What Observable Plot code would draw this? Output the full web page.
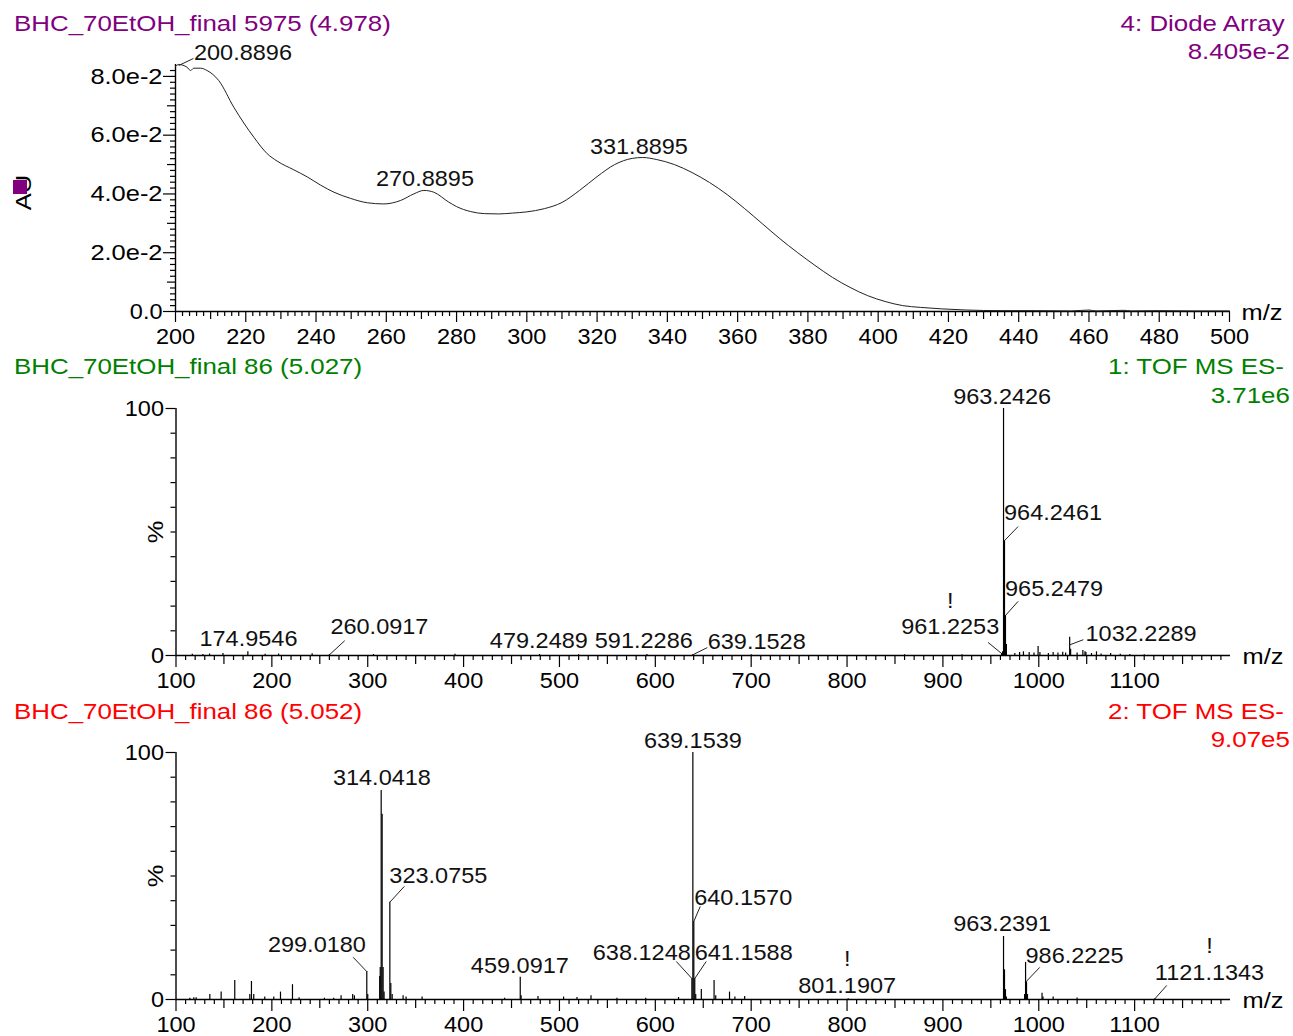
<!DOCTYPE html>
<html><head><meta charset="utf-8">
<script src="https://cdn.jsdelivr.net/npm/d3@7"></script>
<script src="https://cdn.jsdelivr.net/npm/@observablehq/plot@0.6"></script>
<style>
body{margin:0;background:#fff;}
#root{position:relative;width:1293px;height:1036px;overflow:hidden;font-family:'Liberation Sans',Arial,sans-serif;background:#fff;}
.panel{position:absolute;left:0;}
.t{position:absolute;font-size:22.5px;line-height:26px;white-space:nowrap;z-index:2;}
.tl{transform:scaleX(1.15);transform-origin:left center;}
.tr{transform:scaleX(1.15);transform-origin:right center;}
</style></head>
<body><div id="root"></div>
<script>
// ---------- Panel 1: UV diode array ----------
const uvTitle = "BHC_70EtOH_final 5975 (4.978)";
const uvChannel = "4: Diode Array";
const uvMax = "8.405e-2";
const uvNm = [200,200.9,203.3,204.3,205.2,207.1,209,212.3,216.6,222.3,226.1,228.9,233.7,237.5,241.3,245.1,249.8,254.6,259.3,264.1,267.8,270.7,273.5,277.8,280,284,288,292,296,300,305,310,315,320,325,330,333,337,342,347,352,357,362,367,372,377,382,387,392,397,402,407,412,418,425,435,445,455,460,462,470,472,480,490,500];
const uvAU = [0.0834,0.08405,0.0831,0.0820,0.0828,0.0828,0.0820,0.0786,0.0695,0.0593,0.0537,0.0512,0.0482,0.0458,0.0430,0.0406,0.0385,0.0370,0.0366,0.0378,0.0400,0.0412,0.0406,0.0372,0.0357,0.0340,0.0333,0.0332,0.0335,0.0339,0.0350,0.0371,0.0412,0.0459,0.0500,0.0521,0.0524,0.0517,0.0500,0.0473,0.0439,0.0398,0.0350,0.0299,0.0248,0.0201,0.0157,0.0116,0.0082,0.0054,0.0034,0.0020,0.0014,0.0009,0.0005,0.0003,0.0003,0.0002,0.0005,0.0002,0.0004,0.0002,0.0003,0.0002,0.0002];
const uvYTicks = [0,0.02,0.04,0.06,0.08];
const uvYTickLabels = ["0.0","2.0e-2","4.0e-2","6.0e-2","8.0e-2"];
const uvXTicks = [200,220,240,260,280,300,320,340,360,380,400,420,440,460,480,500];
const uvLabelText = ["200.8896","270.8895","331.8895"];
const uvLabelNm = [219.2,271.0,331.9];
const uvLabelAU = [0.0881,0.04526,0.05615];
const uvLeader = [{x1:200.9,y1:0.0837,x2:205.1,y2:0.0861}];

// ---------- Panel 2: TOF MS ES- (1) ----------
const ms1Title = "BHC_70EtOH_final 86 (5.027)";
const ms1Channel = "1: TOF MS ES-";
const ms1Max = "3.71e6";
const ms1Mz = [117,128,135,149,174.9546,193,207,242,260.0917,306,391,479.2489,520,591.2286,639.1528,700,860,920,961.2253,962.23,963.2426,964.2461,965.2479,966.25,975,980,984,990,995,999.3,1001.2,1010,1015,1020,1025,1028,1032.2289,1033.23,1040,1046,1048.2,1049.2,1055,1060.2,1065,1075,1085,1095,1110];
const ms1Pct = [0.5,0.4,0.6,0.8,1.5,0.5,0.6,0.7,0.4,0.4,0.5,0.4,0.3,0.4,0.4,0.3,0.3,0.3,0.8,1.5,100,46.5,16.2,4.5,0.8,1.2,1.5,1.2,1,3.6,1.2,0.8,1.2,1,1.3,1,7.4,2.5,1,2,1.5,1.2,0.8,1.5,0.6,0.8,0.5,0.4,0.3];
const ms1LabelText = ["963.2426","964.2461","965.2479","961.2253","!","1032.2289","174.9546","260.0917","479.2489","591.2286","639.1528"];
const ms1LabelMz = [961.8,1014.9,1015.9,907.6,907.6,1106.7,175.6,312.2,478.5,588,705.8];
const ms1LabelPct = [104.9,57.9,27.1,11.7,22.3,8.9,6.9,11.7,6.1,6.1,5.7];
const ms1Leaders = [
  {x1:964.2461,y1:46.5,x2:978.4,y2:52.2},
  {x1:965.2479,y1:16.2,x2:978.4,y2:21.9},
  {x1:961.2253,y1:0.8,x2:947.1,y2:5.3},
  {x1:1032.2289,y1:4.3,x2:1046.5,y2:6.4},
  {x1:260.0917,y1:0.3,x2:276,y2:6},
  {x1:639.1528,y1:0.3,x2:654.2,y2:3.2}
];

// ---------- Panel 3: TOF MS ES- (2) ----------
const ms2Title = "BHC_70EtOH_final 86 (5.052)";
const ms2Channel = "2: TOF MS ES-";
const ms2Max = "9.07e5";
const ms2Mz = [114.4,118.6,121,135.3,147.1,161.3,177,178.7,181.1,192.6,202,209,221.5,228.4,254.8,264.5,272.2,284.3,286.1,299.018,300.02,312.5,313.04,314.0418,315.04,316.05,317.05,323.0755,324.08,325.5,336.9,340,356.7,442.8,459.0917,460,477.6,504.3,518.3,532.9,560,590,624.2,638.1248,639.1539,640.157,641.1588,642.16,648,661.3,663,677.4,683,693.2,801.1907,963.2391,964.24,965.24,966.24,985.2,986.2225,987.22,988.22,1003.4,1004.4,1015,1040,1121.1343];
const ms2Pct = [0.5,0.7,0.7,2,3,7.7,2,7.3,2,1,1,3,6,0.7,0.5,0.5,1.5,2,1.5,11.3,2,9.3,13,84.6,75,13,3,39.4,6.5,2,1.5,1,1,0.5,9,1.5,1.2,1,0.8,1.5,0.5,0.5,0.8,8.5,100,31.6,8.5,2,4,7.7,1.5,3,1,1.2,0.3,25.5,12,4,1,2,15,7,2,2.5,1,1,0.6,0.3];
const ms2LabelText = ["639.1539","314.0418","323.0755","299.0180","459.0917","638.1248","641.1588","640.1570","801.1907","!","963.2391","986.2225","1121.1343","!"];
const ms2LabelMz = [639.2,314.8,373.7,247,458.7,585.9,692.2,691.7,800.1,800.1,961.8,1037.3,1178.1,1178.1];
const ms2LabelPct = [104.9,89.9,50.2,22.3,13.8,19.0,19.0,41.3,5.7,16.6,30.8,17.8,10.9,21.9];
const ms2Leaders = [
  {x1:323.0755,y1:39.4,x2:338.2,y2:45.8},
  {x1:299.018,y1:11.3,x2:284.8,y2:17.1},
  {x1:640.157,y1:31.6,x2:646.9,y2:37.7},
  {x1:638.1248,y1:8.5,x2:621.9,y2:15.4},
  {x1:641.1588,y1:8.5,x2:653.1,y2:15.4},
  {x1:986.2225,y1:7,x2:1001,y2:13},
  {x1:1121.1343,y1:0.3,x2:1133.5,y2:5.7}
];
const msXTicks = [100,200,300,400,500,600,700,800,900,1000,1100];
const msYTicks = [0,100];

// ---------- helpers ----------
const FONT = "'Liberation Sans', Arial, sans-serif";
const root = document.getElementById("root");

// widen glyphs horizontally about each text's own anchor point
function stretch(svg) {
  svg.querySelectorAll("text").forEach(t => {
    const k = /^[\d.!]+$/.test(t.textContent.trim()) ? 1.045 : 1.13;
    let tr = t.getAttribute("transform") || "";
    const x = t.getAttribute("x");
    if (x != null && !isNaN(+x) && +x !== 0) {
      tr += ` translate(${+x},0)`;
      t.removeAttribute("x");
    }
    t.setAttribute("transform", tr + ` scale(${k},1)`);
  });
}

function xTickRules(vals, len) {
  return Plot.ruleX(vals, {x: d => d, y1: 0, y2: 0, insetBottom: -len, stroke: "black", strokeWidth: 1.2});
}
function yTickRules(vals, x0, len) {
  return Plot.ruleY(vals, {y: d => d, x1: x0, x2: x0, insetLeft: -len, stroke: "black", strokeWidth: 1.2});
}

function addText(cls, text, color, top, side, off) {
  const d = document.createElement("div");
  d.className = "t " + cls;
  d.textContent = text;
  d.style.color = color;
  d.style.top = top + "px";
  d.style[side] = off + "px";
  root.appendChild(d);
}

function place(svg, top) {
  stretch(svg);
  const w = document.createElement("div");
  w.className = "panel";
  w.style.top = top + "px";
  w.appendChild(svg);
  root.appendChild(w);
}

const baseStyle = {fontFamily: FONT, fontSize: "22.5px", color: "black", background: "transparent", overflow: "visible"};

// ---------- Panel 1 ----------
{
  const uv = uvNm.map((x, i) => ({x, y: uvAU[i]}));
  const lab = uvLabelText.map((t, i) => ({t, x: uvLabelNm[i], y: uvLabelAU[i]}));
  const minorX = d3.range(202, 500, 2).filter(v => v % 10 !== 0);
  const medX = d3.range(210, 500, 20);
  const minorY = d3.range(0.002, 0.084, 0.002).filter(v => Math.abs(v / 0.01 - Math.round(v / 0.01)) > 1e-6);
  const medY = [0.01, 0.03, 0.05, 0.07];
  const svg = Plot.plot({
    width: 1293, height: 350,
    marginLeft: 175, marginRight: 64, marginTop: 64, marginBottom: 39,
    x: {domain: [200, 500], axis: null},
    y: {domain: [0, 0.08405], axis: null},
    style: baseStyle,
    marks: [
      xTickRules(minorX, 5), xTickRules(medX, 8), xTickRules(uvXTicks, 11),
      yTickRules(minorY, 200, 5), yTickRules(medY, 200, 8), yTickRules(uvYTicks, 200, 12),
      Plot.text(uvXTicks, {x: d => d, y: 0, text: d => String(d), dy: 17, lineAnchor: "top"}),
      Plot.text(uvYTicks, {x: 200, y: d => d, text: (d, i) => uvYTickLabels[i], dx: -13, textAnchor: "end", lineAnchor: "middle"}),
      Plot.ruleY([0], {stroke: "black", strokeWidth: 1.4}),
      Plot.ruleX([200], {stroke: "black", strokeWidth: 1.4}),
      Plot.line(uv, {x: "x", y: "y", stroke: "#222", strokeWidth: 1, curve: "monotone-x"}),
      Plot.link(uvLeader, {x1: "x1", y1: "y1", x2: "x2", y2: "y2", stroke: "#222", strokeWidth: 1}),
      Plot.text(lab, {x: "x", y: "y", text: "t", lineAnchor: "middle", fill: "#111"}),
      Plot.text(["m/z"], {frameAnchor: "bottom-right", dx: 12, dy: 1, textAnchor: "start", lineAnchor: "middle"}),
      Plot.text(["AU"], {frameAnchor: "left", rotate: -90, dx: -151.5, dy: 4.5, textAnchor: "middle", lineAnchor: "middle"})
    ]
  });
  place(svg, 0);
  addText("tl", uvTitle, "#800080", 11, "left", 14);
  addText("tr", uvChannel, "#800080", 11, "right", 8);
  addText("tr", uvMax, "#800080", 39, "right", 3);
  const sq = document.createElement("div");
  Object.assign(sq.style, {position: "absolute", left: "13px", top: "180px", width: "14px", height: "14px", background: "#800080", zIndex: 3});
  root.appendChild(sq);
}

// ---------- MS panels ----------
function msPanel(mz, pct, labText, labMz, labPct, leaders, height, mTop, mBottom) {
  const peaks = mz.map((x, i) => ({x, y: pct[i]}));
  const lab = labText.map((t, i) => ({t, x: labMz[i], y: labPct[i]}));
  const minorX = d3.range(110, 1200, 10).filter(v => v % 50 !== 0);
  const medX = d3.range(150, 1200, 100);
  const minorY = d3.range(10, 100, 10);
  return Plot.plot({
    width: 1293, height,
    marginLeft: 175.5, marginRight: 63, marginTop: mTop, marginBottom: mBottom,
    x: {domain: [100, 1200], axis: null},
    y: {domain: [0, 100], axis: null},
    style: baseStyle,
    marks: [
      xTickRules(minorX, 5), xTickRules(medX, 9), xTickRules(msXTicks, 12),
      yTickRules(minorY, 100, 5), yTickRules(msYTicks, 100, 10),
      Plot.text(msXTicks, {x: d => d, y: 0, text: d => String(d), dy: 17, lineAnchor: "top"}),
      Plot.text(msYTicks, {x: 100, y: d => d, text: d => String(d), dx: -12, textAnchor: "end", lineAnchor: "middle"}),
      Plot.ruleY([0], {stroke: "black", strokeWidth: 1.4}),
      Plot.ruleX([100], {stroke: "black", strokeWidth: 1.4}),
      Plot.ruleX(peaks, {x: "x", y1: 0, y2: "y", stroke: "black", strokeWidth: 1.2}),
      Plot.link(leaders, {x1: "x1", y1: "y1", x2: "x2", y2: "y2", stroke: "#222", strokeWidth: 1}),
      Plot.text(lab, {x: "x", y: "y", text: "t", lineAnchor: "middle", fill: "#111"}),
      Plot.text(["m/z"], {frameAnchor: "bottom-right", dx: 12, dy: 1, textAnchor: "start", lineAnchor: "middle"}),
      Plot.text(["%"], {frameAnchor: "left", rotate: -90, dx: -20.5, textAnchor: "middle", lineAnchor: "middle"})
    ]
  });
}

place(msPanel(ms1Mz, ms1Pct, ms1LabelText, ms1LabelMz, ms1LabelPct, ms1Leaders, 345, 58, 40), 350);
addText("tl", ms1Title, "#008000", 354, "left", 14);
addText("tr", ms1Channel, "#008000", 354, "right", 9);
addText("tr", ms1Max, "#008000", 383, "right", 3);

place(msPanel(ms2Mz, ms2Pct, ms2LabelText, ms2LabelMz, ms2LabelPct, ms2Leaders, 341, 57, 37), 695);
addText("tl", ms2Title, "#ff0000", 699, "left", 14);
addText("tr", ms2Channel, "#ff0000", 699, "right", 9);
addText("tr", ms2Max, "#ff0000", 727, "right", 3);
</script></body></html>
